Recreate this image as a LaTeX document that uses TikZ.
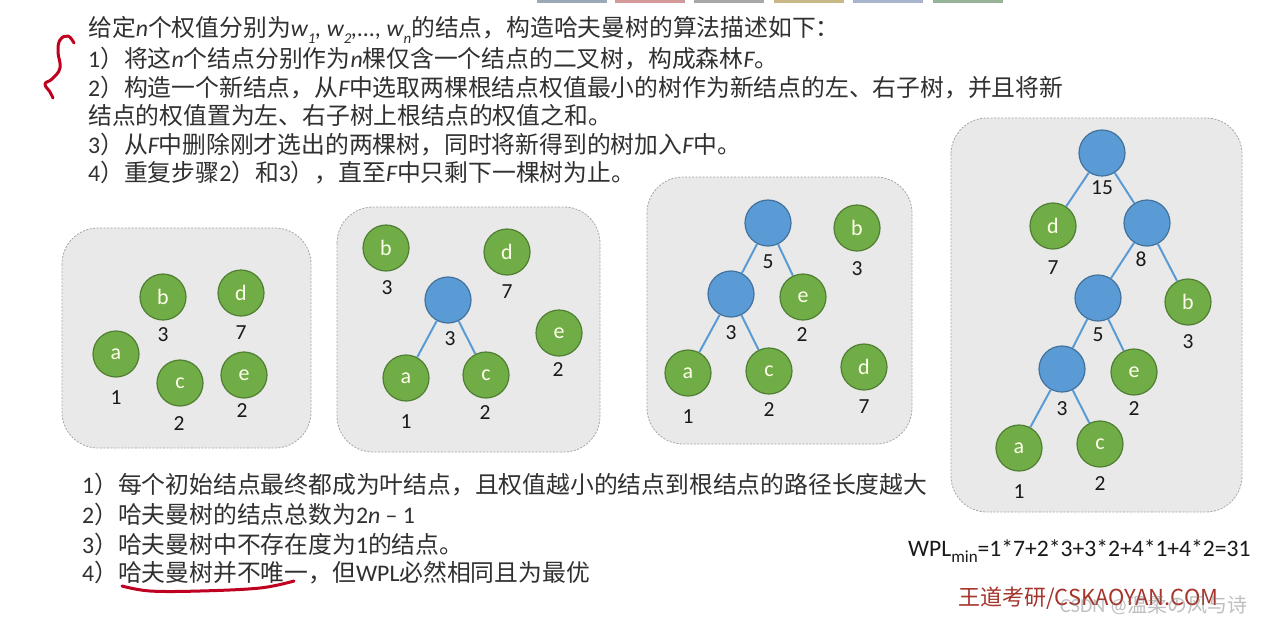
\documentclass[tikz,border=0pt]{standalone}
\usepackage{fontspec}
\setmainfont{Carlito}
\newfontfamily\cjk{Noto Sans CJK SC}
\definecolor{gfill}{HTML}{70AD47}
\definecolor{gline}{HTML}{507E32}
\definecolor{bfill}{HTML}{5B9BD5}
\definecolor{bline}{HTML}{41719C}
\definecolor{boxfill}{HTML}{E9E9E9}
\definecolor{boxline}{HTML}{A6A6A6}
\definecolor{tcol}{HTML}{303030}
\definecolor{redpen}{HTML}{C00020}
\definecolor{wdred}{HTML}{A5342A}
\definecolor{tabA}{HTML}{9AA8B8}
\definecolor{tabB}{HTML}{D49A9A}
\definecolor{tabC}{HTML}{A8A8A8}
\definecolor{tabD}{HTML}{C8B888}
\definecolor{tabE}{HTML}{A8B4CC}
\definecolor{tabF}{HTML}{98B498}
\newcommand\li[1]{{\rmfamily\itshape #1}}
\newcommand\lt[1]{{\rmfamily\upshape #1}}
\newcommand\mysub[1]{\raisebox{-0.28em}{\fontsize{15}{15}\selectfont #1}}
\tikzset{
  txt/.style={anchor=west, inner sep=0pt, text=tcol, font={\fontsize{23.8}{28}\selectfont\cjk}},
  leaf/.style={circle, draw=gline, line width=1.2pt, fill=gfill, minimum size=46pt, inner sep=0pt, text=white!92!yellow, font={\fontsize{22}{22}\selectfont}},
  inner/.style={circle, draw=bline, line width=1.2pt, fill=bfill, minimum size=46pt, inner sep=0pt},
  wlab/.style={inner sep=0pt, text=black!90, font={\fontsize{21.5}{21.5}\selectfont}},
  edge/.style={draw=bfill, line width=2pt},
  panel/.style={draw=boxline, dash pattern=on 2pt off 1.5pt, line width=0.8pt, fill=boxfill, rounded corners=36pt},
  tabbar/.style={inner sep=0pt, minimum width=70pt, minimum height=3pt, anchor=north west},
}
\begin{document}
\begin{tikzpicture}[x=1pt, y=-1pt]
\useasboundingbox (0,0) rectangle (1266,622);
\fill[white] (0,0) rectangle (1266,622);
% top tabs
\node[tabbar, fill=tabA] (tb1) at (537,0) {};
\node[tabbar, fill=tabB] (tb2) at (615,0) {};
\node[tabbar, fill=tabC] (tb3) at (694,0) {};
\node[tabbar, fill=tabD] (tb4) at (774,0) {};
\node[tabbar, fill=tabE] (tb5) at (853,0) {};
\node[tabbar, fill=tabF] (tb6) at (933,0) {};

% top text
\node[txt] (t0) at (88,30) {给定\li{n}个权值分别为\li{w\mysub{1}, w\mysub{2},..., w\mysub{n}}的结点，构造哈夫曼树的算法描述如下：};
\node[txt] (t1) at (88,58.6) {\lt{1}）将这\li{n}个结点分别作为\li{n}棵仅含一个结点的二叉树，构成森林\li{F}。};
\node[txt] (t2) at (88,87.2) {\lt{2}）构造一个新结点，从\li{F}中选取两棵根结点权值最小的树作为新结点的左、右子树，并且将新};
\node[txt] (t3) at (88,115.8) {结点的权值置为左、右子树上根结点的权值之和。};
\node[txt] (t4) at (88,144.4) {\lt{3}）从\li{F}中删除刚才选出的两棵树，同时将新得到的树加入\li{F}中。};
\node[txt] (t5) at (88,173) {\lt{4}）重复步骤\lt{2}）和\lt{3}），直至\li{F}中只剩下一棵树为止。};

% red brace
\draw[redpen, line width=3pt, line cap=round, line join=round]
  plot[smooth, tension=0.7] coordinates {(74,43) (68,36) (60,40) (58,52) (60,68) (52,79) (45,84) (50,92) (53,98)};

% panels
\draw[panel] (62,228) rectangle (311,448);
\draw[panel] (337,207) rectangle (600,452);
\draw[panel] (647,177) rectangle (912,444);
\draw[panel] (951,118) rectangle (1242,512);

% panel 1
\node[leaf] (p1b) at (163,297) {b};
\node[leaf] (p1d) at (241,293) {d};
\node[leaf] (p1a) at (116,354) {a};
\node[leaf] (p1c) at (180,383) {c};
\node[leaf] (p1e) at (244,375) {e};
\node[wlab] (w1b) at (163,335) {3};
\node[wlab] (w1d) at (241,333) {7};
\node[wlab] (w1a) at (116,398) {1};
\node[wlab] (w1c) at (179,424) {2};
\node[wlab] (w1e) at (242,411) {2};

% panel 2
\node[leaf] (p2b) at (386,248) {b};
\node[leaf] (p2d) at (507,252) {d};
\node[inner] (p2r) at (448,300) {};
\node[leaf] (p2a) at (406,378) {a};
\node[leaf] (p2c) at (486,375) {c};
\node[leaf] (p2e) at (559,333) {e};
\draw[edge] (p2r) -- (p2a);
\draw[edge] (p2r) -- (p2c);
\node[wlab] (w2b) at (387,288) {3};
\node[wlab] (w2d) at (507,292) {7};
\node[wlab] (w2r) at (450,339) {3};
\node[wlab] (w2a) at (406,422) {1};
\node[wlab] (w2c) at (485,413) {2};
\node[wlab] (w2e) at (558,370) {2};

% panel 3
\node[inner] (p3r) at (768,223) {};
\node[leaf] (p3b) at (857,228) {b};
\node[inner] (p3m) at (731,294) {};
\node[leaf] (p3e) at (803,297) {e};
\node[leaf] (p3a) at (688,373) {a};
\node[leaf] (p3c) at (769,371) {c};
\node[leaf] (p3d) at (864,367) {d};
\draw[edge] (p3r) -- (p3m);
\draw[edge] (p3r) -- (p3e);
\draw[edge] (p3m) -- (p3a);
\draw[edge] (p3m) -- (p3c);
\node[wlab] (w3r) at (768,262) {5};
\node[wlab] (w3b) at (857,269) {3};
\node[wlab] (w3m) at (731,333) {3};
\node[wlab] (w3e) at (802,335) {2};
\node[wlab] (w3a) at (688,417) {1};
\node[wlab] (w3c) at (769,410) {2};
\node[wlab] (w3d) at (864,407) {7};

% panel 4
\node[inner] (p4r) at (1102,153) {};
\node[leaf] (p4d) at (1053,226) {d};
\node[inner] (p4e8) at (1147,223) {};
\node[inner] (p4f) at (1098,298) {};
\node[leaf] (p4b) at (1188,302) {b};
\node[inner] (p4t) at (1062,369) {};
\node[leaf] (p4e) at (1134,372) {e};
\node[leaf] (p4a) at (1019,448) {a};
\node[leaf] (p4c) at (1100,444) {c};
\draw[edge] (p4r) -- (p4d);
\draw[edge] (p4r) -- (p4e8);
\draw[edge] (p4e8) -- (p4f);
\draw[edge] (p4e8) -- (p4b);
\draw[edge] (p4f) -- (p4t);
\draw[edge] (p4f) -- (p4e);
\draw[edge] (p4t) -- (p4a);
\draw[edge] (p4t) -- (p4c);
\node[wlab] (w4r) at (1102,188) {15};
\node[wlab] (w4d) at (1053,268) {7};
\node[wlab] (w4e8) at (1141,259) {8};
\node[wlab] (w4f) at (1098,335) {5};
\node[wlab] (w4b) at (1188,342) {3};
\node[wlab] (w4t) at (1062,409) {3};
\node[wlab] (w4e) at (1134,409) {2};
\node[wlab] (w4a) at (1019,492) {1};
\node[wlab] (w4c) at (1100,484) {2};

% bottom text
\node[txt] (s1) at (82,485) {\lt{1}）每个初始结点最终都成为叶结点，且权值越小的结点到根结点的路径长度越大};
\node[txt] (s2) at (82,514) {\lt{2}）哈夫曼树的结点总数为\lt{2}\li{n}\lt{ – 1}};
\node[txt] (s3) at (82,544) {\lt{3}）哈夫曼树中不存在度为\lt{1}的结点。};
\node[txt] (s4) at (82,573) {\lt{4}）哈夫曼树并不唯一，但\lt{WPL}必然相同且为最优};
\draw[redpen, line width=3pt, line cap=round]
  plot[smooth, tension=0.6] coordinates {(122,586) (150,591) (200,591) (260,588) (294,581)};

% formula
\node[inner sep=0pt, anchor=west, text=black!90, font={\fontsize{23.6}{23.6}\selectfont}] (wpl) at (908,551)
  {WPL\raisebox{-0.25em}{\fontsize{17}{17}\selectfont min}=1*7+2*3+3*2+4*1+4*2=31};

% logo and watermark
\node[inner sep=0pt, anchor=west, text=wdred, font={\fontsize{22}{22}\selectfont\cjk}] (logo) at (958,598)
  {王道考研/CSKAOYAN.COM};
\node[inner sep=0pt, anchor=west, text=gray, opacity=0.5, font={\fontsize{20}{20}\selectfont}] (wm) at (1060,605)
  {CSDN @{\cjk 温柔の风与诗}};
\end{tikzpicture}
\end{document}
